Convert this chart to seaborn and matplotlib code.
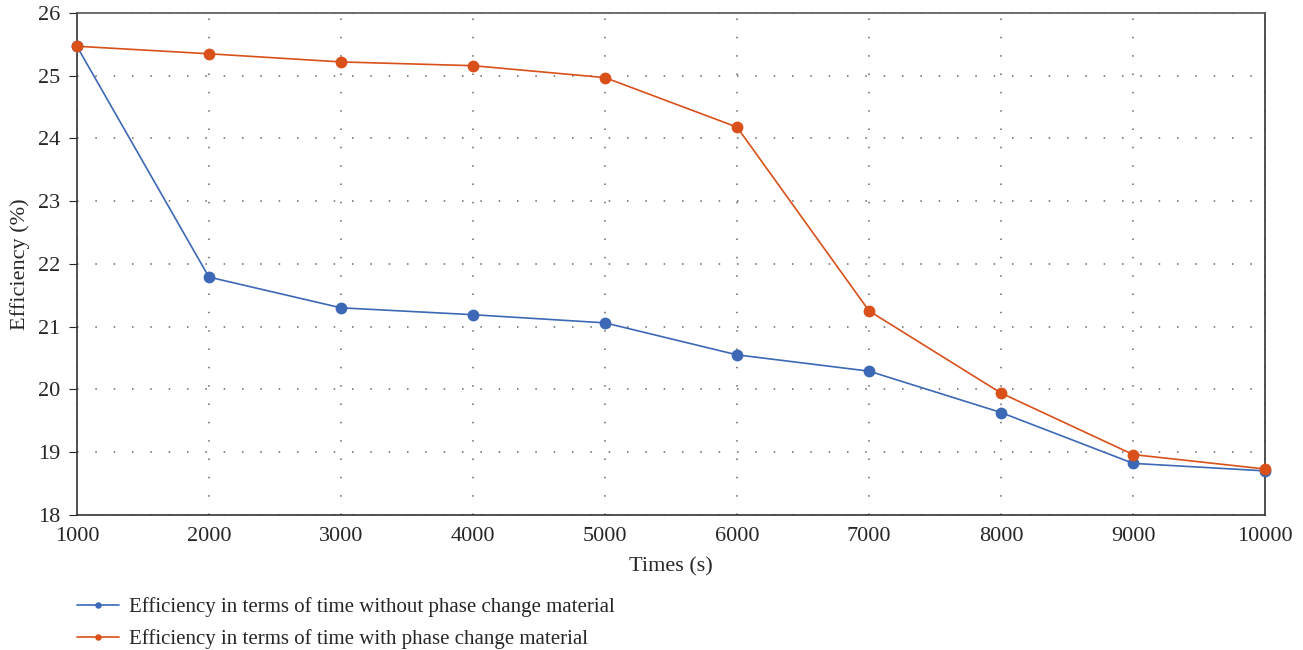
import numpy as np
import pandas as pd
import seaborn as sns
import matplotlib.pyplot as plt

# Data
times = [1000, 2000, 3000, 4000, 5000, 6000, 7000, 8000, 9000, 10000]
eff_without_pcm = [25.47, 21.79, 21.30, 21.19, 21.06, 20.55, 20.29, 19.63, 18.82, 18.70]
eff_with_pcm = [25.47, 25.35, 25.22, 25.16, 24.97, 24.18, 21.25, 19.94, 18.96, 18.73]

label_without = "Efficiency in terms of time without phase change material"
label_with = "Efficiency in terms of time with phase change material"

data = pd.DataFrame({
    "time": times * 2,
    "eff": eff_without_pcm + eff_with_pcm,
    "series": [label_without] * len(times) + [label_with] * len(times),
})

sns.set_style("white")
plt.rcParams['font.family'] = ['Liberation Serif', 'DejaVu Serif']

fig, ax = plt.subplots(figsize=(13.03, 6.5), dpi=100)
fig.subplots_adjust(left=0.059, right=0.971, top=0.98, bottom=0.208)

sns.lineplot(data=data, x="time", y="eff", hue="series",
             palette=["#3C68B6", "#D9501A"], marker="o", markersize=8.5,
             markeredgewidth=0, linewidth=1.2, ax=ax, clip_on=False, zorder=5)

ax.set_xlim(1000, 10000)
ax.set_ylim(18, 26)
ax.set_xticks(times)
ax.set_yticks(range(18, 27))
ax.tick_params(axis='x', direction='in', length=5, labelsize=16, pad=9)
ax.tick_params(axis='y', direction='out', length=6, labelsize=16, left=True, pad=6)
ax.grid(True, linestyle=(0, (1, 11)), color='#666666', linewidth=1.1)

for s in ['left', 'bottom', 'right']:
    ax.spines[s].set_color('#333333')
    ax.spines[s].set_linewidth(1.2)
ax.spines['top'].set_color('#555555')
ax.spines['top'].set_linewidth(1.2)

ax.set_xlabel("Times (s)", fontsize=16, labelpad=8)
ax.set_ylabel("Efficiency (%)", fontsize=16, labelpad=6)

handles, labels = ax.get_legend_handles_labels()
ax.get_legend().remove()
fig.legend(handles, labels, loc='upper left', bbox_to_anchor=(77 / 1303, 1 - 597 / 650),
           frameon=False, fontsize=15, borderpad=0, borderaxespad=0,
           handlelength=2.0, handletextpad=0.5, markerscale=0.55, labelspacing=0.6)

plt.savefig("out.png", dpi=100)
